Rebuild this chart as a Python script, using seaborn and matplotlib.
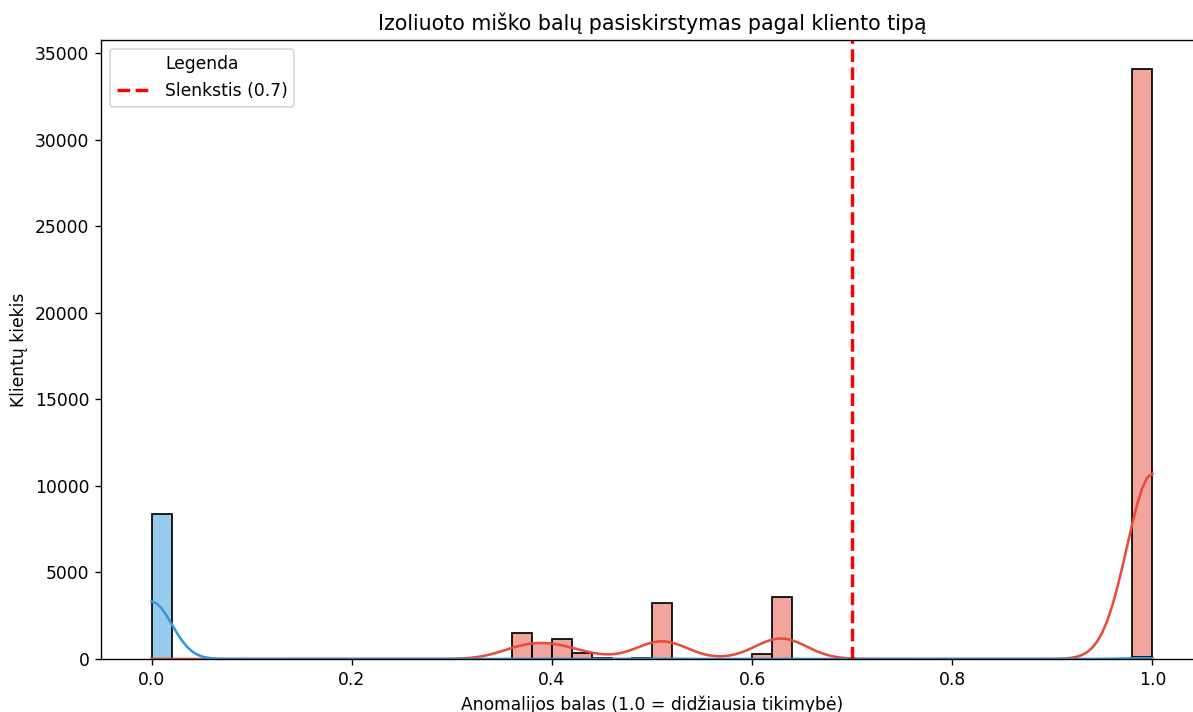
import numpy as np
import pandas as pd
import matplotlib
matplotlib.use("Agg")
import matplotlib.pyplot as plt
import seaborn as sns

# ---- data (score value -> number of clients) ----
blue_scores = [0.0, 0.49, 0.99]
blue_counts = [8380, 40, 125]

red_scores = [0.37, 0.39, 0.41, 0.43, 0.45, 0.51, 0.61, 0.63, 1.0]
red_counts = [1520, 900, 1150, 330, 60, 3250, 290, 3560, 34090]

class_names = ["Normalus", "Anomalus"]
palette_colors = ["#3498db", "#e74c3c"]

threshold = 0.7

title = "Izoliuoto miško balų pasiskirstymas pagal kliento tipą"
xlabel = "Anomalijos balas (1.0 = didžiausia tikimybė)"
ylabel = "Klientų kiekis"
legend_title = "Legenda"
threshold_label = f"Slenkstis ({threshold})"

# ---- build table ----
scores = np.concatenate([np.repeat(blue_scores, blue_counts),
                         np.repeat(red_scores, red_counts)])
labels = np.concatenate([np.repeat(class_names[0], sum(blue_counts)),
                         np.repeat(class_names[1], sum(red_counts))])
df = pd.DataFrame({"score": scores, "tipas": labels})

dpi = 123
W, H = 1193, 712
fig = plt.figure(figsize=(W / dpi, H / dpi), dpi=dpi)
ax = fig.add_axes([101.5 / W, 1 - 659 / H, 1101 / W, (659 - 40) / H])

sns.histplot(data=df, x="score", hue="tipas", hue_order=class_names,
             palette=dict(zip(class_names, palette_colors)),
             bins=50, kde=True, edgecolor="black", legend=False, ax=ax)

ax.axvline(threshold, color="red", linestyle="--", linewidth=2,
           label=threshold_label)

ax.set_title(title)
ax.set_xlabel(xlabel)
ax.set_ylabel(ylabel)
ax.set_xlim(-0.05, 1.05)
ax.set_ylim(0, 35000 * 619 / 606)
ax.legend(title=legend_title, loc="upper left")

fig.savefig("out.png", dpi=dpi)
